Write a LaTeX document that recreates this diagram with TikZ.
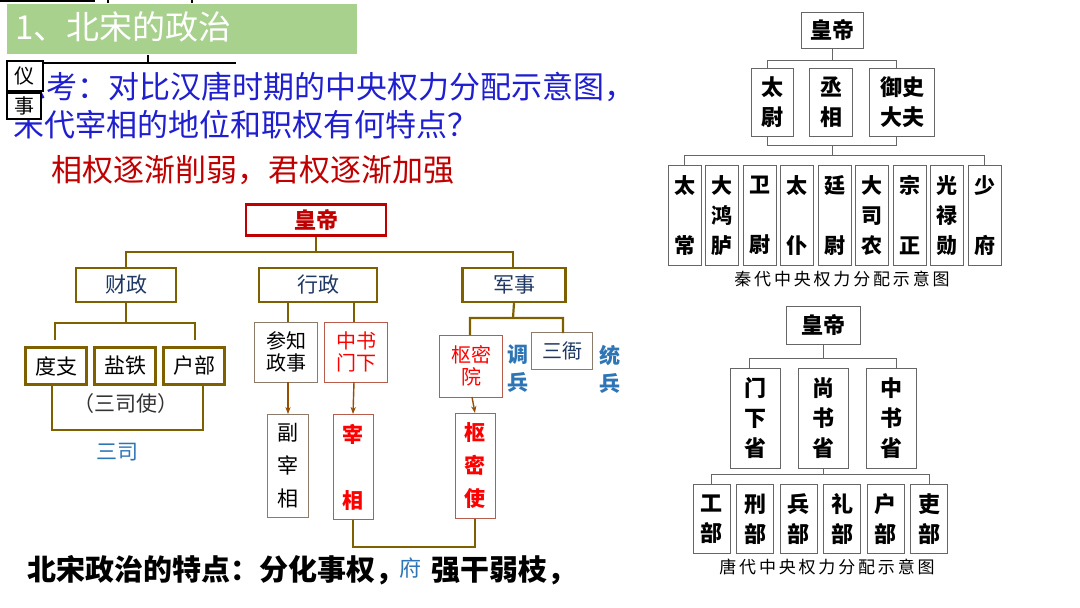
\documentclass[tikz,border=0pt]{standalone}
\usepackage{fontspec}
\setmainfont{Noto Sans CJK SC}
\usetikzlibrary{arrows.meta}
\definecolor{olv}{HTML}{7F6000}
\definecolor{dred}{HTML}{C00000}
\definecolor{rd}{HTML}{FF0000}
\definecolor{nb}{HTML}{1F3864}
\definecolor{lb}{HTML}{2E75B6}
\definecolor{bl}{HTML}{1F1FD0}
\definecolor{grn}{HTML}{A9D18E}
\definecolor{rb}{HTML}{B85C4C}
\definecolor{gbr}{HTML}{8C7B6B}
\newcommand{\fsb}[2]{\fontsize{#1}{#2}\selectfont}
\tikzset{
 ob/.style={draw=olv,line width=2.4pt,fill=white,inner sep=0pt,text=nb,font=\fsb{21}{25}},
 tb/.style={draw=gbr,line width=1pt,fill=white,inner sep=0pt,align=center,font=\fsb{20}{22}},
 rb/.style={draw=rb,line width=1pt,fill=white,inner sep=0pt,align=center,text=rd,font=\fsb{20}{22}},
 gb/.style={draw=black!60,line width=1pt,fill=white,inner sep=0pt,align=center,font=\bfseries\fsb{22}{30}},
 ol/.style={draw=olv,line width=2.2pt},
 gl/.style={draw=black!60,line width=1pt},
 ar/.style={draw=olv!80!red,line width=1.4pt,-{Stealth[length=7pt]}},
}
\begin{document}
\begin{tikzpicture}[x=1pt,y=-1pt]
\useasboundingbox (0,0) rectangle (1080,608);
\fill[white] (0,0) rectangle (1080,608);
\draw[line width=2pt] (0,1) -- (95,1);
\draw[line width=2pt] (108,0) -- (108,3) (192,0) -- (192,3);
\draw[line width=2pt] (40,63) -- (236,63) (148,55) -- (148,63);
\node[anchor=west,text=bl,font=\fsb{31}{31}] (q1) at (12,87) {思考：对比汉唐时期的中央权力分配示意图，};
\node[anchor=west,text=bl,font=\fsb{31}{31}] (q2) at (10,125) {宋代宰相的地位和职权有何特点？};
\node[draw,line width=2pt,fill=white,minimum width=36pt,minimum height=30pt,inner sep=0pt,anchor=north west,font=\fsb{20}{20}] (f1) at (6,60) {仪};
\node[draw,line width=2pt,fill=white,minimum width=34pt,minimum height=26pt,inner sep=0pt,anchor=north west,font=\fsb{20}{20}] (f2) at (6,92) {事};
\node[fill=grn,minimum width=350pt,minimum height=50pt,anchor=north west,inner sep=0pt] (ban) at (7,4) {};
\node[anchor=west,text=white,font=\fsb{33}{33}] (bt) at (12,27) {1、北宋的政治};
\node[anchor=west,text=dred,font=\fsb{31}{31}] (ans) at (48,170) {相权逐渐削弱，君权逐渐加强};
\node[draw=dred,line width=2.4pt,fill=white,minimum width=140pt,minimum height=31pt,inner sep=0pt,text=dred,font=\bfseries\fsb{22}{22}] (hd) at (316,220) {皇帝};
\node[ob,minimum width=100pt,minimum height=34pt] (cz) at (126,285) {财政};
\node[ob,minimum width=118pt,minimum height=34pt] (xz) at (318,285) {行政};
\node[ob,minimum width=103pt,minimum height=34pt] (js) at (514,285) {军事};
\draw[ol] (hd.south) -- (316,252) (126,268) |- (513,252) -- (513,268);
\node[ob,minimum width=61pt,minimum height=37pt,text=black] (dz) at (56,366) {度支};
\node[ob,minimum width=61pt,minimum height=37pt,text=black] (yt) at (125,366) {盐铁};
\node[ob,minimum width=61pt,minimum height=37pt,text=black] (hb) at (194,366) {户部};
\draw[ol] (cz.south) -- (126,323) (55,340) |- (195,323) -- (195,340);
\node[text=black!80,font=\fsb{21}{21}] (ssy) at (126,404) {（三司使）};
\draw[ol] (52,385) -- (52,430) -- (203,430) -- (203,385);
\node[text=lb,font=\fsb{21}{21}] (ss) at (117,452) {三司};
\node[tb,minimum width=63pt,minimum height=60pt] (cz2) at (286,352) {参知\\政事};
\node[rb,minimum width=63pt,minimum height=60pt] (zs) at (356,352) {中书\\门下};
\draw[ol] (288,303) -- (288,322) (354,303) -- (354,322);
\node[tb,minimum width=41pt,minimum height=103pt,font=\fsb{21}{33}] (fzx) at (288,466) {副\\宰\\相};
\node[rb,minimum width=40pt,minimum height=105pt,font=\bfseries\fsb{21}{66}] (zx) at (353,467) {宰\\相};
\draw[ar] (288,382) -- (fzx.north);
\draw[ar] (354,382) -- (zx.north);
\node[rb,minimum width=63pt,minimum height=62pt] (smy) at (471,366) {枢密\\院};
\node[tb,minimum width=61pt,minimum height=37pt,text=nb] (sy) at (562,351) {三衙};
\draw[ol] (js.south) -- (513,318) (470,335) |- (563,318) -- (563,333);
\node[text=lb,align=center,font=\bfseries\fsb{21}{28}] (db) at (518,369) {调\\兵};
\node[text=lb,align=center,font=\bfseries\fsb{21}{28}] (tbg) at (610,369) {统\\兵};
\node[rb,minimum width=40pt,minimum height=105pt,font=\bfseries\fsb{21}{33}] (sms) at (475,466) {枢\\密\\使};
\draw[ar] (472,397) -- (sms.north);
\draw[ol] (zx.south) -- (353,547) -- (475,547) -- (sms.south);
\node[text=lb,font=\fsb{22}{22}] (ef) at (410,568) {府};
\node[anchor=west,font=\bfseries\fsb{29}{29}] (td1) at (24,570) {北宋政治的特点：分化事权，};
\node[anchor=west,font=\bfseries\fsb{29}{29}] (td2) at (428,570) {强干弱枝，};
\node[gb,minimum width=62pt,minimum height=36pt] (qhd) at (832,30) {皇帝};
\node[gb,minimum width=42pt,minimum height=68pt] (tw) at (772,102) {太\\尉};
\node[gb,minimum width=43pt,minimum height=68pt] (cx) at (831,102) {丞\\相};
\node[gb,minimum width=65pt,minimum height=68pt] (ys) at (902,102) {御史\\大夫};
\draw[gl] (qhd.south) -- (832,60) (767,68) |- (896,60) -- (896,68);
\draw[gl] (767,136) -- (767,145) -- (896,145) -- (896,136) (832,145) -- (832,155);
\foreach \i/\t in {0/{太\\[30pt]常},1/{大\\鸿\\胪},2/{卫\\[30pt]尉},3/{太\\[30pt]仆},4/{廷\\[30pt]尉},5/{大\\司\\农},6/{宗\\[30pt]正},7/{光\\禄\\勋},8/{少\\[30pt]府}}{
 \node[gb,minimum width=33pt,minimum height=100pt,anchor=north,font=\bfseries\fsb{21}{30}] (q\i) at (684.5+37.5*\i,165) {\t};
}
\draw[gl] (q0.north) -- (684.5,155) -- (984.5,155) -- (q8.north);
\node[font=\fsb{17}{17}] (qcap) at (842,279) {秦\,代\,中\,央\,权\,力\,分\,配\,示\,意\,图};
\node[gb,minimum width=74pt,minimum height=38pt] (thd) at (823,325) {皇帝};
\node[gb,minimum width=50pt,minimum height=100pt] (mx) at (755,418) {门\\下\\省};
\node[gb,minimum width=50pt,minimum height=100pt] (shs) at (823,418) {尚\\书\\省};
\node[gb,minimum width=50pt,minimum height=100pt] (zss) at (891,418) {中\\书\\省};
\draw[gl] (thd.south) -- (823,358) (749,368) |- (896,358) -- (896,368);
\foreach \i/\t in {0/工,1/刑,2/兵,3/礼,4/户,5/吏}{
 \node[gb,minimum width=37pt,minimum height=69pt,anchor=north] (t\i) at (711.5+43.5*\i,484) {\t\\部};
}
\draw[gl] (shs.south) -- (823,474) (t0.north) -- (711.5,474) -- (929,474) -- (t5.north);
\node[font=\fsb{17}{17}] (tcap) at (827,567) {唐\,代\,中\,央\,权\,力\,分\,配\,示\,意\,图};
\end{tikzpicture}
\end{document}
